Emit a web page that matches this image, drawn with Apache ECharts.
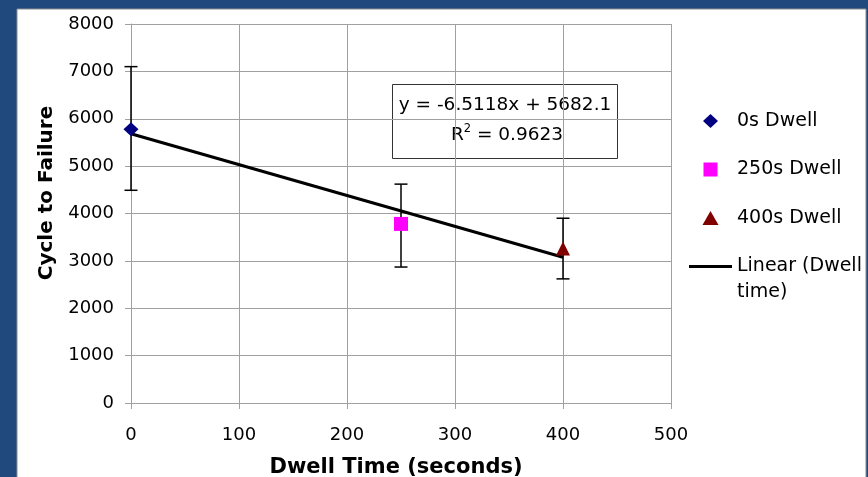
<!DOCTYPE html>
<html>
<head>
<meta charset="utf-8">
<script src="https://cdn.jsdelivr.net/npm/echarts@6/dist/echarts.min.js"></script>
<style>
html,body{margin:0;padding:0;background:#204a7e;}
#chart{width:868px;height:477px;}
</style>
</head>
<body>
<div id="chart"></div>
<script>
// ---- data ----
const seriesNames = ['0s Dwell', '250s Dwell', '400s Dwell'];
const dwellTimes = [0, 250, 400];
const cyclesMean = [5780, 3780, 3260];
const errLow = [4490, 2870, 2620];
const errHigh = [7100, 4620, 3900];
const trendName = 'Linear (Dwell\ntime)';
const trendX = [0, 400];
const trendY = [5682.1, 3077.4];
const eqLine1 = 'y = -6.5118x + 5682.1';
const eqR2 = '0.9623';
const xAxisMin = 0, xAxisMax = 500, xAxisStep = 100;
const yAxisMin = 0, yAxisMax = 8000, yAxisStep = 1000;
const xTitle = 'Dwell Time (seconds)';
const yTitle = 'Cycle to Failure';

const markerSymbols = ['diamond', 'rect', 'triangle'];
const markerSizes = [[15, 14], [14, 14], [14, 14]];
const markerColors = ['#000080', '#ff00ff', '#800000'];
// legend icons: shapes centred in a 43x14 box (degenerate corner points fix the box)
const box = ' M0,0L0,0 M43,14L43,14';
const legendIcons = [
  'path://M21.5,0L29,7L21.5,14L14,7Z' + box,
  'path://M14.5,0L28.5,0L28.5,14L14.5,14Z' + box,
  'path://M21.5,0L29.5,14L13.5,14Z' + box
];

const FONT = 'DejaVu Sans';
const gridColor = '#a0a0a0';

const chart = echarts.init(document.getElementById('chart'));

const scatterSeries = seriesNames.map((n, i) => ({
  name: n,
  type: 'scatter',
  symbol: markerSymbols[i],
  symbolSize: markerSizes[i],
  itemStyle: { color: markerColors[i], opacity: 1 },
  data: [[dwellTimes[i], cyclesMean[i]]],
  z: 5
}));

const errData = dwellTimes.map((x, i) => [x, errLow[i], errHigh[i]]);

const option = {
  backgroundColor: '#204a7e',
  animation: false,
  textStyle: { fontFamily: FONT },
  graphic: [{
    type: 'rect', z: -10, silent: true,
    shape: { x: 17, y: 9, width: 849, height: 470 },
    style: { fill: '#ffffff', stroke: '#8c8c8c', lineWidth: 1 }
  }, {
    type: 'group', z: 10,
    children: [{
      type: 'rect',
      shape: { x: 392.5, y: 84.5, width: 225, height: 74 },
      style: { fill: '#ffffff', stroke: '#333333', lineWidth: 1 }
    }, {
      type: 'text',
      x: 505, y: 105,
      style: { text: eqLine1, font: '18.5px "DejaVu Sans"', fill: '#000', align: 'center', verticalAlign: 'middle' }
    }, {
      type: 'text',
      x: 507, y: 135,
      style: {
        text: '{m|R}{s|2}{m| = ' + eqR2 + '}',
        align: 'center', verticalAlign: 'middle',
        rich: {
          m: { fontFamily: FONT, fontSize: 18.5, fill: '#000', lineHeight: 22 },
          s: { fontFamily: FONT, fontSize: 11.5, fill: '#000', lineHeight: 22, padding: [0, 0, 11, 0] }
        }
      }
    }]
  }],
  grid: { left: 131, top: 24, width: 540, height: 379, containLabel: false, outerBoundsMode: 'none' },
  legend: [{
    orient: 'vertical',
    left: 689, top: 108,
    padding: 0,
    itemWidth: 43, itemHeight: 14,
    itemGap: 22.5,
    textStyle: { fontFamily: FONT, fontSize: 19, color: '#000', lineHeight: 26 },
    data: seriesNames.map((n, i) => ({ name: n, icon: legendIcons[i] }))
  }, {
    orient: 'vertical',
    left: 689, top: 253.5,
    padding: 0,
    itemWidth: 43, itemHeight: 28,
    textStyle: { fontFamily: FONT, fontSize: 19, color: '#000', lineHeight: 25.5 },
    data: [{ name: trendName, icon: 'path://M0,0L43,0L43,3L0,3Z M0,28L0,28', itemStyle: { color: '#000' } }]
  }],
  xAxis: {
    type: 'value', min: xAxisMin, max: xAxisMax, interval: xAxisStep,
    name: xTitle, nameLocation: 'middle', nameGap: 54,
    nameTextStyle: { fontFamily: FONT, fontSize: 21, fontWeight: 'bold', color: '#000', padding: [0, 10, 0, 0] },
    axisLine: { show: true, lineStyle: { color: gridColor, width: 1 } },
    axisTick: { show: true, length: 6, lineStyle: { color: gridColor } },
    axisLabel: { fontFamily: FONT, fontSize: 18, color: '#000', margin: 23, formatter: v => String(v) },
    splitLine: { show: true, lineStyle: { color: gridColor, width: 1 } }
  },
  yAxis: {
    type: 'value', min: yAxisMin, max: yAxisMax, interval: yAxisStep,
    name: yTitle, nameLocation: 'middle', nameGap: 70,
    nameTextStyle: { fontFamily: FONT, fontSize: 20, fontWeight: 'bold', color: '#000', padding: [0, 0, 0, 41] },
    axisLine: { show: true, lineStyle: { color: gridColor, width: 1 } },
    axisTick: { show: true, length: 6, lineStyle: { color: gridColor } },
    axisLabel: { fontFamily: FONT, fontSize: 18, color: '#000', margin: 17, formatter: v => String(v) },
    splitLine: { show: true, lineStyle: { color: gridColor, width: 1 } }
  },
  series: [{
    type: 'custom',
    name: 'errorbars',
    z: 3,
    data: errData,
    renderItem: function (params, api) {
      const x = api.value(0);
      const lo = api.coord([x, api.value(1)]);
      const hi = api.coord([x, api.value(2)]);
      const hw = 6.5;
      const st = { stroke: '#000', lineWidth: 1.5 };
      return {
        type: 'group',
        children: [
          { type: 'line', shape: { x1: lo[0], y1: lo[1], x2: hi[0], y2: hi[1] }, style: st },
          { type: 'line', shape: { x1: hi[0] - hw, y1: hi[1], x2: hi[0] + hw, y2: hi[1] }, style: st },
          { type: 'line', shape: { x1: lo[0] - hw, y1: lo[1], x2: lo[0] + hw, y2: lo[1] }, style: st }
        ]
      };
    }
  }, {
    name: trendName,
    type: 'line',
    symbol: 'none',
    z: 4,
    itemStyle: { color: '#000' },
    lineStyle: { color: '#000', width: 3 },
    data: trendX.map((x, i) => [x, trendY[i]])
  }].concat(scatterSeries)
};

chart.setOption(option);
</script>
</body>
</html>
